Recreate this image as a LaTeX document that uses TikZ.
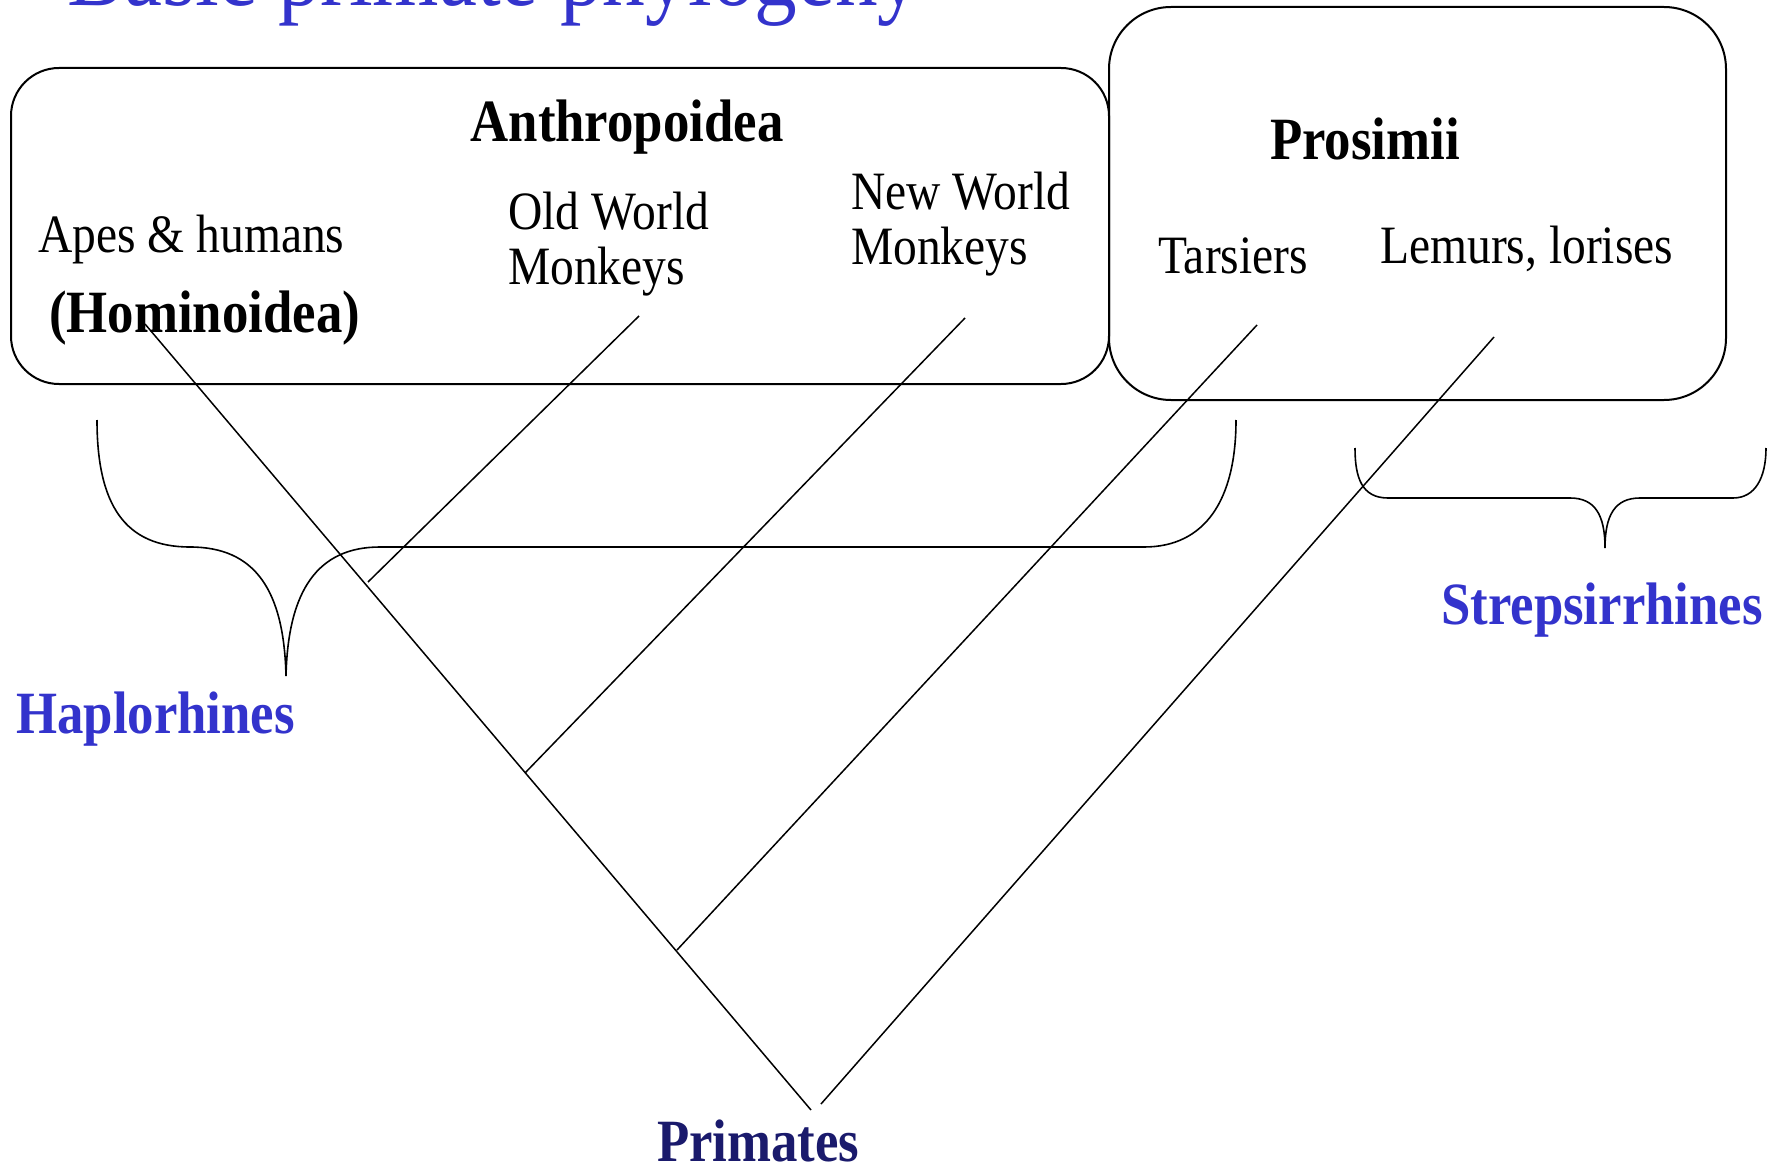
\documentclass[tikz,border=0pt]{standalone}
\usepackage{fontspec}
\setmainfont{Liberation Serif}[FakeStretch=0.88]
\definecolor{hblue}{RGB}{51,51,204}
\definecolor{pnavy}{RGB}{26,26,108}
\begin{document}
\begin{tikzpicture}[x=1pt,y=-1pt,
  lbl/.style={anchor=base west,inner sep=0pt,font=\fontsize{54}{54}\selectfont},
  blbl/.style={anchor=base west,inner sep=0pt,font=\fontsize{60}{60}\selectfont\bfseries},
  grpbox/.style={draw,line width=2pt},
  branch/.style={line width=1.5pt},
  bracecurve/.style={line width=1.6pt}]
\useasboundingbox (0,0) rectangle (1781,1169);

% title (cut off at top)
\node[anchor=base west,inner sep=0pt,text=hblue,font=\fontsize{97}{97}\selectfont] (title) at (67,6) {Basic primate phylogeny};

% group boxes
\draw[grpbox,rounded corners=48pt] (11,68) rectangle (1109,384);
\draw[grpbox,rounded corners=62pt] (1109,7) rectangle (1726,400);

% labels
\node[blbl,anchor=base] (anth) at (627,142) {Anthropoidea};
\node[blbl] (pros) at (1270,160) {Prosimii};
\node[lbl] (apes) at (38,253) {Apes \& humans};
\node[blbl] (homi) at (49,332) {(Hominoidea)};
\node[lbl] (ow1) at (508,230) {Old World};
\node[lbl] (ow2) at (508,284) {Monkeys};
\node[lbl] (nw1) at (851,210) {New World};
\node[lbl] (nw2) at (851,265) {Monkeys};
\node[lbl] (tars) at (1158,273) {Tarsiers};
\node[lbl] (lemu) at (1380,263) {Lemurs, lorises};
\node[blbl,text=hblue] (hapl) at (16,733) {Haplorhines};
\node[blbl,text=hblue] (strep) at (1441,624) {Strepsirrhines};
\node[blbl,text=pnavy] (prim) at (657,1161) {Primates};

% tree
\coordinate (hom) at (145,324);
\coordinate (root) at (811,1110);
\coordinate (owtop) at (639,316);
\coordinate (owend) at (368,582);
\coordinate (nwtop) at (965,318);
\coordinate (nwend) at (525,773);
\coordinate (tartop) at (1257,325);
\coordinate (tarend) at (677,950);
\coordinate (lemtop) at (1494,337);
\coordinate (lemend) at (821,1104);
\draw[branch] (hom) -- (root);
\draw[branch] (owtop) -- (owend);
\draw[branch] (nwtop) -- (nwend);
\draw[branch] (tartop) -- (tarend);
\draw[branch] (lemtop) -- (lemend);

% Haplorhines brace
\draw[bracecurve] (97,420) .. controls (97,505) and (125,547) .. (190,547)
  .. controls (255,547) and (284,590) .. (286,676)
  .. controls (288,590) and (318,547) .. (380,547)
  -- (1144,547)
  .. controls (1205,547) and (1236,500) .. (1236,420);

% Strepsirrhines brace
\draw[bracecurve] (1355,448) .. controls (1355,478) and (1362,498) .. (1388,498)
  -- (1570,498)
  .. controls (1595,498) and (1605,515) .. (1605,548)
  .. controls (1605,515) and (1615,498) .. (1640,498)
  -- (1733,498)
  .. controls (1755,498) and (1766,478) .. (1766,448);
\end{tikzpicture}
\end{document}
